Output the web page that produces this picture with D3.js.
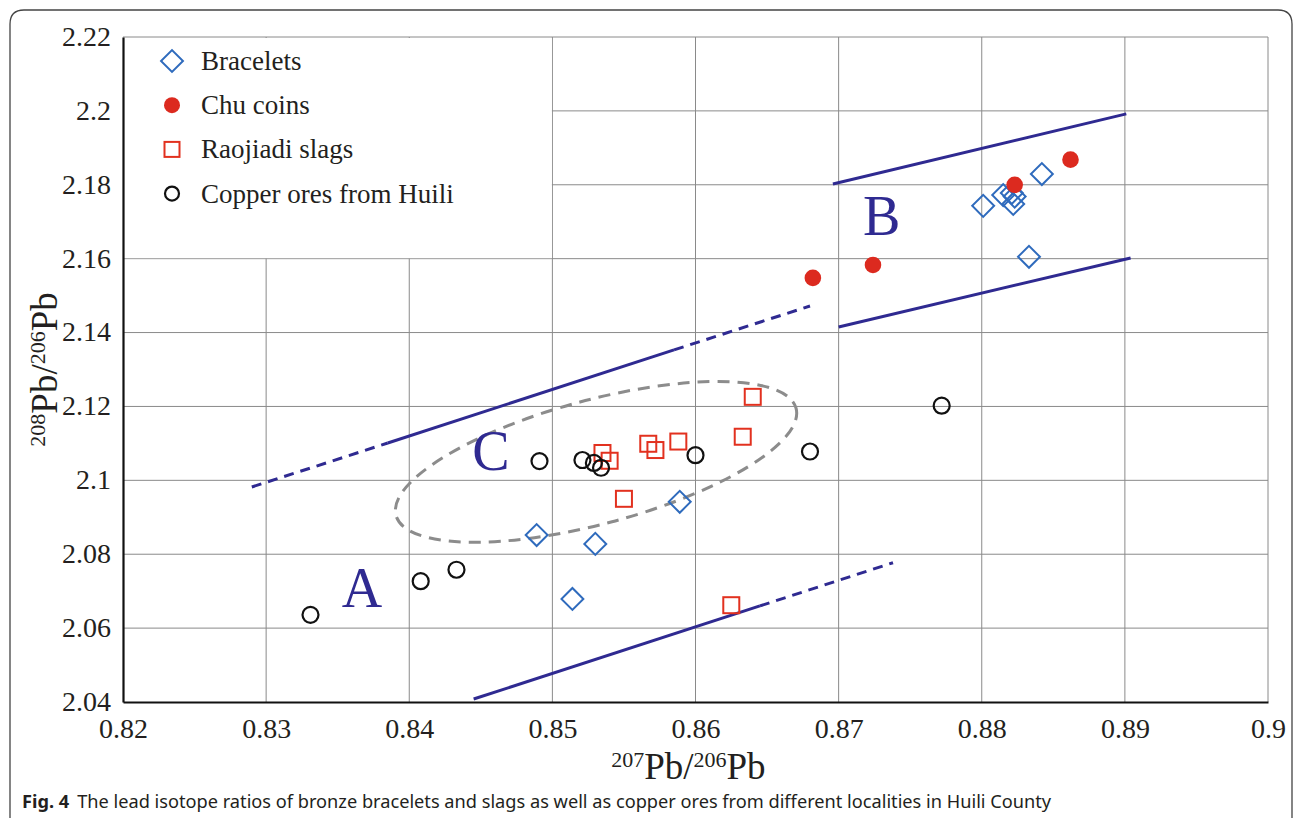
<!DOCTYPE html>
<html>
<head>
<meta charset="utf-8">
<script src="https://cdn.jsdelivr.net/npm/d3@7"></script>
<style>
  body { margin: 0; background: #fff; }
  svg { display: block; }
</style>
</head>
<body>
<div id="chart"></div>
<script>
// data
const xTicks = [0.82, 0.83, 0.84, 0.85, 0.86, 0.87, 0.88, 0.89, 0.9];
const yTicks = [2.04, 2.06, 2.08, 2.1, 2.12, 2.14, 2.16, 2.18, 2.2, 2.22];

const bracelets = [
  [0.8801, 2.1743], [0.8815, 2.1772], [0.8821, 2.1778], [0.8823, 2.1768], [0.8822, 2.1748],
  [0.8842, 2.1829], [0.8833, 2.1605], [0.8489, 2.0852], [0.8530, 2.0828],
  [0.8514, 2.0679], [0.8589, 2.0942]
];
const chuCoins = [
  [0.8682, 2.1548], [0.8724, 2.1583], [0.8823, 2.1800], [0.8862, 2.1868]
];
const slags = [
  [0.8640, 2.1226], [0.8633, 2.1118], [0.8588, 2.1105], [0.8567, 2.1099],
  [0.8572, 2.1082], [0.8535, 2.1074], [0.8540, 2.1053], [0.8550, 2.0950],
  [0.8625, 2.0662]
];
const ores = [
  [0.8331, 2.0636], [0.8408, 2.0727], [0.8433, 2.0758], [0.8491, 2.1052],
  [0.8521, 2.1055], [0.8529, 2.1047], [0.8534, 2.1034], [0.8600, 2.1068],
  [0.8680, 2.1078], [0.8772, 2.1202]
];

// field boundary lines [x1, y1, x2, y2, dashed]
const fieldLines = [
  [0.8290, 2.0982, 0.8385, 2.1101, true],
  [0.8385, 2.1101, 0.8585, 2.1353, false],
  [0.8585, 2.1353, 0.8680, 2.1472, true],
  [0.8445, 2.0408, 0.8645, 2.0660, false],
  [0.8645, 2.0660, 0.8738, 2.0777, true],
  [0.8696, 2.1802, 0.8901, 2.1992, false],
  [0.8700, 2.1415, 0.8904, 2.1602, false]
];
const fieldLabels = [["A", 0.8367, 2.0658], ["B", 0.8730, 2.1664], ["C", 0.8457, 2.1028]];
// ellipse around group C: centre, semi-axes (x units), rotation in degrees
const ellipseC = { cx: 0.85305, cy: 2.1050, a: 0.01447, b: 0.00433, rot: -15 };

const W = 1295, H = 818;
const margin = { left: 123, right: 27, top: 37, bottom: 116 };
const blue = "#2f2a91";
const serif = "Liberation Serif";

const svg = d3.select("#chart").append("svg")
  .attr("width", W).attr("height", H);

// outer frame
svg.append("path")
  .attr("d", "M10,830 L10,24 Q10,10 24,10 L1278,10 Q1292,10 1292,24 L1292,830")
  .attr("fill", "none").attr("stroke", "#444").attr("stroke-width", 1.3);

const x = d3.scaleLinear().domain([0.82, 0.9]).range([margin.left, W - margin.right]);
const y = d3.scaleLinear().domain([2.04, 2.22]).range([H - margin.bottom, margin.top]);

const g = svg.append("g");

// grid
g.selectAll(".vg").data(xTicks.slice(1)).enter().append("line")
  .attr("x1", d => x(d)).attr("x2", d => x(d))
  .attr("y1", y(2.04)).attr("y2", y(2.22))
  .attr("stroke", "#8a8a8a").attr("stroke-width", 1);
g.selectAll(".hg").data(yTicks.slice(1)).enter().append("line")
  .attr("x1", x(0.82)).attr("x2", x(0.9))
  .attr("y1", d => y(d)).attr("y2", d => y(d))
  .attr("stroke", "#8a8a8a").attr("stroke-width", 1);

// legend box hides grid
g.append("rect")
  .attr("x", x(0.82) + 1).attr("y", y(2.22) + 1)
  .attr("width", x(0.85) - x(0.82) - 1.5).attr("height", y(2.16) - y(2.22) - 1.5)
  .attr("fill", "#fff");

// axes
const xAxis = d3.axisBottom(x).tickValues(xTicks).tickSize(0).tickFormat(d3.format("~g"));
const yAxis = d3.axisLeft(y).tickValues(yTicks).tickSize(0).tickFormat(d3.format("~g"));
const xa = g.append("g").attr("transform", `translate(0,${y(2.04)})`).call(xAxis);
const ya = g.append("g").attr("transform", `translate(${x(0.82)},0)`).call(yAxis);
[xa, ya].forEach(a => {
  a.attr("font-family", serif).attr("font-size", 28);
  a.select(".domain").attr("stroke", "#111").attr("stroke-width", 2.2);
  a.selectAll("text").attr("font-family", serif).style("font-family", serif)
    .style("font-size", "28px").attr("fill", "#231f20");
});
xa.selectAll("text").attr("y", 0).attr("dy", "1.3em");
ya.selectAll("text").attr("x", -12).attr("dy", "0.3em");

// field lines
g.selectAll(".fl").data(fieldLines).enter().append("line")
  .attr("x1", d => x(d[0])).attr("y1", d => y(d[1]))
  .attr("x2", d => x(d[2])).attr("y2", d => y(d[3]))
  .attr("stroke", blue).attr("stroke-width", 3)
  .attr("stroke-dasharray", d => d[4] ? "10,7" : null);

// ellipse C
const ecx = x(ellipseC.cx), ecy = y(ellipseC.cy);
g.append("ellipse")
  .attr("cx", ecx).attr("cy", ecy)
  .attr("rx", x(ellipseC.cx + ellipseC.a) - ecx)
  .attr("ry", x(ellipseC.cx + ellipseC.b) - ecx)
  .attr("transform", `rotate(${ellipseC.rot},${ecx},${ecy})`)
  .attr("fill", "none").attr("stroke", "#8c8c8c").attr("stroke-width", 3)
  .attr("stroke-dasharray", "12,8");

// field labels
g.selectAll(".lab").data(fieldLabels).enter().append("text")
  .attr("x", d => x(d[1])).attr("y", d => y(d[2]))
  .attr("text-anchor", "middle")
  .style("font-family", serif).style("font-size", "56px").attr("fill", blue)
  .text(d => d[0]);

// markers
const diamond = d3.symbol().type(d3.symbolSquare).size(240);
g.selectAll(".br").data(bracelets).enter().append("path")
  .attr("d", diamond)
  .attr("transform", d => `translate(${x(d[0])},${y(d[1])}) rotate(45)`)
  .attr("fill", "none").attr("stroke", "#2f6bbd").attr("stroke-width", 2);
g.selectAll(".sl").data(slags).enter().append("rect")
  .attr("x", d => x(d[0]) - 8).attr("y", d => y(d[1]) - 8)
  .attr("width", 16).attr("height", 16)
  .attr("fill", "none").attr("stroke", "#e2311f").attr("stroke-width", 2);
g.selectAll(".or").data(ores).enter().append("circle")
  .attr("cx", d => x(d[0])).attr("cy", d => y(d[1])).attr("r", 8)
  .attr("fill", "none").attr("stroke", "#111").attr("stroke-width", 2.2);
g.selectAll(".cc").data(chuCoins).enter().append("circle")
  .attr("cx", d => x(d[0])).attr("cy", d => y(d[1])).attr("r", 8.3)
  .attr("fill", "#dc2a1f");

// legend
const legend = [
  ["Bracelets", "diamond"], ["Chu coins", "dot"],
  ["Raojiadi slags", "square"], ["Copper ores from Huili", "circle"]
];
const lg = g.selectAll(".lg").data(legend).enter().append("g")
  .attr("transform", (d, i) => `translate(172,${61 + i * 44.2})`);
lg.each(function (d) {
  const s = d3.select(this);
  if (d[1] === "diamond") s.append("path").attr("d", diamond).attr("transform", "rotate(45)")
    .attr("fill", "none").attr("stroke", "#2f6bbd").attr("stroke-width", 2);
  if (d[1] === "dot") s.append("circle").attr("r", 8).attr("fill", "#dc2a1f");
  if (d[1] === "square") s.append("rect").attr("x", -7.5).attr("y", -7.5).attr("width", 15).attr("height", 15)
    .attr("fill", "none").attr("stroke", "#e2311f").attr("stroke-width", 2);
  if (d[1] === "circle") s.append("circle").attr("r", 7).attr("fill", "none").attr("stroke", "#111").attr("stroke-width", 2.2);
});
lg.append("text").attr("x", 29).attr("y", 9)
  .style("font-family", serif).style("font-size", "27px").attr("fill", "#231f20")
  .text(d => d[0]);

// axis titles
const xt = svg.append("text").attr("x", x(0.8595)).attr("y", 779)
  .attr("text-anchor", "middle").style("font-family", serif)
  .style("font-size", "37px").attr("fill", "#231f20");
xt.append("tspan").style("font-size", "22px").attr("dy", -12).text("207");
xt.append("tspan").attr("dy", 12).text("Pb/");
xt.append("tspan").style("font-size", "22px").attr("dy", -12).text("206");
xt.append("tspan").attr("dy", 12).text("Pb");

const yt = svg.append("text")
  .attr("transform", `translate(57,${y(2.12) - 37}) rotate(-90)`)
  .attr("text-anchor", "middle").style("font-family", serif)
  .style("font-size", "37px").attr("fill", "#231f20");
yt.append("tspan").style("font-size", "22px").attr("dy", -12).text("208");
yt.append("tspan").attr("dy", 12).text("Pb/");
yt.append("tspan").style("font-size", "22px").attr("dy", -12).text("206");
yt.append("tspan").attr("dy", 12).text("Pb");

// caption
const cap = svg.append("text").attr("x", 22).attr("y", 808)
  .style("font-family", "Noto Sans").style("font-size", "18.2px").attr("fill", "#231f20");
cap.append("tspan").attr("font-weight", "bold").text("Fig. 4");
cap.append("tspan").attr("dx", 8)
  .text("The lead isotope ratios of bronze bracelets and slags as well as copper ores from different localities in Huili County");
</script>
</body>
</html>
